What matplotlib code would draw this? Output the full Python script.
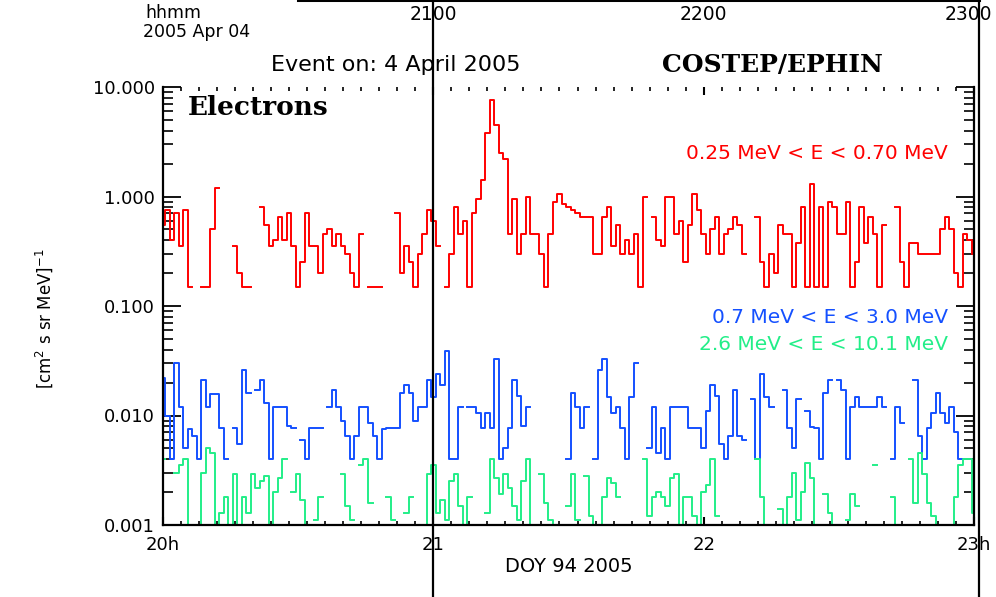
import numpy as np
import matplotlib
matplotlib.use('Agg')
import matplotlib.pyplot as plt
from matplotlib.ticker import MultipleLocator, FixedLocator, FixedFormatter, LogLocator, NullFormatter
from matplotlib.lines import Line2D
import matplotlib.transforms as mtrans

nan = np.nan

# minutes after 20:00 UT, DOY 94 2005 (1-min averages)
minutes = np.arange(0, 181)

# 0.25 MeV < E < 0.70 MeV
flux_e1 = [0.55, 0.75, 0.4, 0.7, 0.35, 0.75, 0.15, nan, nan, 0.15,
           0.15, 0.5, 1.2, nan, nan, nan, 0.35, 0.2, 0.15, 0.15,
           nan, nan, 0.8, 0.55, 0.35, 0.4, 0.65, 0.4, 0.7, 0.35,
           0.15, 0.25, 0.7, 0.35, 0.35, 0.2, 0.45, 0.5, 0.35, 0.45,
           0.35, 0.3, 0.2, 0.15, 0.45, nan, 0.15, 0.15, 0.15, nan,
           nan, nan, 0.7, 0.2, 0.35, 0.25, 0.15, 0.3, 0.45, 0.75,
           0.6, 0.35, nan, 0.15, 0.3, 0.8, 0.45, 0.6, 0.15, 0.7,
           0.95, 1.4, 3.8, 7.6, 4.5, 2.5, 2.2, 0.45, 0.95, 0.3,
           0.45, 1.0, 0.45, 0.45, 0.3, 0.15, 0.45, 0.9, 1.05, 0.85,
           0.8, 0.75, 0.7, 0.65, 0.65, 0.65, 0.3, 0.3, 0.65, 0.8,
           0.35, 0.55, 0.3, 0.4, 0.3, 0.45, 0.15, 1.0, nan, 0.65,
           0.4, 0.35, 1.0, 1.0, 0.45, 0.6, 0.25, 0.55, 1.05, 0.75,
           0.45, 0.3, 0.5, 0.65, 0.3, 0.45, 0.5, 0.65, 0.55, 0.3,
           nan, nan, 0.65, 0.25, 0.15, 0.3, 0.2, 0.55, 0.45, 0.45,
           0.15, 0.38, 0.8, 0.15, 1.3, 0.15, 0.8, 0.15, 0.9, 0.8,
           0.45, 0.45, 0.9, 0.15, 0.25, 0.8, 0.38, 0.65, 0.45, 0.15,
           0.55, nan, nan, 0.8, 0.25, 0.15, 0.38, 0.38, 0.3, 0.3,
           0.3, 0.3, 0.3, 0.5, 0.65, 0.5, 0.2, 0.15, 0.45, 0.4,
           0.3]

# 0.7 MeV < E < 3.0 MeV
flux_e2 = [0.022, 0.01, 0.004, 0.03, 0.012, 0.005, 0.0075, 0.0065, 0.004, 0.021,
           0.012, 0.0157, 0.0157, 0.0077, 0.004, nan, 0.0077, 0.0055, 0.026, 0.016,
           nan, 0.017, 0.021, 0.013, 0.004, 0.012, 0.012, 0.012, 0.008, 0.0077,
           nan, 0.006, 0.004, 0.0077, 0.0077, 0.0077, nan, 0.012, 0.017, 0.012,
           0.009, 0.0065, 0.004, 0.0065, 0.012, 0.012, 0.0085, 0.0065, 0.004, 0.0075,
           0.0077, 0.0077, 0.0077, 0.016, 0.019, 0.016, 0.009, 0.012, 0.012, 0.021,
           0.0147, 0.024, 0.019, 0.039, 0.004, 0.004, 0.012, nan, 0.012, 0.012,
           0.0105, 0.0077, 0.0105, 0.0077, 0.033, 0.004, 0.005, 0.0077, 0.021, 0.015,
           0.008, 0.012, nan, nan, nan, nan, nan, nan, nan, nan,
           0.004, 0.016, 0.012, 0.0077, 0.012, nan, 0.004, 0.026, 0.033, 0.0147,
           0.0105, 0.012, 0.0077, 0.004, 0.0147, 0.03, nan, nan, 0.005, 0.012,
           0.0045, 0.0077, 0.004, 0.0119, 0.0119, 0.0119, 0.0119, 0.0077, 0.0077, 0.0077,
           0.005, 0.011, 0.019, 0.015, 0.0055, 0.004, 0.0065, 0.017, 0.0065, 0.006,
           nan, 0.014, 0.004, 0.024, 0.0147, 0.0119, nan, nan, 0.017, 0.0077,
           0.005, 0.014, nan, 0.011, 0.0078, 0.0077, 0.004, 0.016, 0.021, nan,
           0.021, 0.017, 0.004, 0.0119, 0.0147, 0.0119, 0.0119, 0.0119, 0.0119, 0.0147,
           0.0119, nan, 0.004, 0.0119, 0.0085, nan, nan, 0.021, 0.0065, 0.004,
           0.0077, 0.0105, 0.016, 0.0105, 0.0085, 0.0119, 0.007, 0.004, nan, nan,
           nan]

# 2.6 MeV < E < 10.1 MeV
flux_e3 = [0.004, nan, nan, 0.003, 0.0035, 0.004, 0.001, nan, 0.001, 0.003,
           0.005, 0.0045, 0.001, 0.0013, 0.0018, 0.001, 0.0029, 0.001, 0.0018, 0.0013,
           0.0029, 0.0022, 0.0025, 0.0028, 0.001, 0.002, 0.0027, 0.004, nan, 0.002,
           0.0029, 0.0017, 0.001, nan, 0.0011, 0.0018, nan, nan, nan, nan,
           0.0029, 0.0015, 0.0011, nan, 0.0035, 0.004, 0.0016, nan, nan, nan,
           0.0018, 0.0011, nan, nan, 0.0013, 0.0018, nan, nan, 0.001, 0.0029,
           0.0035, 0.0013, 0.0017, 0.0011, 0.0025, 0.0029, 0.0015, 0.001, 0.0018, nan,
           nan, nan, 0.0013, 0.004, 0.0027, 0.0019, 0.0029, 0.0022, 0.0015, 0.0011,
           0.0025, 0.004, 0.001, nan, 0.0029, 0.0016, 0.0011, 0.001, nan, nan,
           0.0015, 0.0029, 0.0011, nan, 0.0028, 0.0012, 0.001, 0.001, 0.0018, 0.0027,
           0.0024, 0.0018, nan, nan, nan, nan, nan, 0.004, 0.0012, 0.0018,
           0.002, 0.0018, 0.0015, 0.0027, 0.0029, 0.001, 0.0018, 0.0018, 0.0012, 0.001,
           0.002, 0.0023, 0.004, 0.0012, nan, nan, nan, nan, nan, nan,
           nan, nan, 0.004, 0.0018, 0.001, nan, nan, 0.0014, 0.001, 0.0018,
           0.003, 0.0011, 0.002, 0.0037, 0.0027, 0.001, nan, 0.0019, 0.0013, 0.001,
           nan, nan, 0.0011, 0.0019, 0.0015, nan, nan, nan, 0.0035, nan,
           nan, nan, 0.0018, 0.001, nan, nan, 0.004, 0.0016, 0.0045, 0.0029,
           0.0016, 0.0012, 0.001, nan, nan, 0.001, 0.0018, 0.0035, 0.004, 0.004,
           0.0013]

channels = ['0.25 MeV < E < 0.70 MeV', '0.7 MeV < E < 3.0 MeV', '2.6 MeV < E < 10.1 MeV']
colors = ['#ff0000', '#1450ff', '#22ee88']

hour_ticks = [0, 60, 120, 180]
hour_labels = ['20h', '21', '22', '23h']
hhmm_labels = ['2100', '2200', '2300']
hhmm_ticks = [60, 120, 180]
event_marks = [60, 181]

y_ticks = [0.001, 0.01, 0.1, 1.0, 10.0]
y_labels = ['0.001', '0.010', '0.100', '1.000', '10.000']

fig = plt.figure(figsize=(9.96, 5.97), dpi=100)
ax = fig.add_axes([163 / 996, 1 - 525 / 597, 811 / 996, 438 / 597])

for flux, col in zip([flux_e1, flux_e2, flux_e3], colors):
    ax.plot(minutes, flux, color=col, lw=1.4, drawstyle='steps-mid')

ax.set_yscale('log')
ax.set_ylim(0.001, 10.0)
ax.set_xlim(0, 180)

ax.yaxis.set_major_locator(FixedLocator(y_ticks))
ax.yaxis.set_major_formatter(FixedFormatter(y_labels))
ax.yaxis.set_minor_locator(LogLocator(base=10, subs=np.arange(2, 10)))
ax.yaxis.set_minor_formatter(NullFormatter())
ax.xaxis.set_major_locator(FixedLocator(hour_ticks))
ax.xaxis.set_major_formatter(FixedFormatter(hour_labels))
ax.xaxis.set_minor_locator(MultipleLocator(4))

ax.tick_params(axis='y', which='major', direction='in', length=13, width=1.3,
               left=True, right=True, labelsize=13, pad=6)
ax.tick_params(axis='y', which='minor', direction='in', length=7, width=1.2,
               left=True, right=True)
ax.tick_params(axis='x', which='major', direction='in', length=6, width=1.5,
               top=True, bottom=True, labelsize=13, pad=8)
ax.tick_params(axis='x', which='minor', direction='in', length=3, width=1.2,
               top=True, bottom=True)

ax.spines['top'].set_visible(False)
for s in ['left', 'bottom', 'right']:
    ax.spines[s].set_linewidth(1.6)

ax.set_xlabel('DOY 94 2005', fontsize=14, labelpad=2)
ax.set_ylabel(r'[cm$^2$ s sr MeV]$^{-1}$', fontsize=12)
ax.yaxis.set_label_coords(-0.133, 0.47)

# event markers crossing the whole page
for m in event_marks:
    ax.axvline(m, ymin=-0.165, ymax=1.2, color='black', lw=1.6, clip_on=False)
tb = mtrans.blended_transform_factory(ax.transData, ax.transAxes)
top_line = Line2D([30, 181], [1.199, 1.199], color='black', lw=2.2,
                  transform=tb, clip_on=False)
ax.add_line(top_line)

# hhmm axis labels along the top (last one nudged to stay on the page)
nudge = [0, 0, -4]
for t, lab, dx in zip(hhmm_ticks, hhmm_labels, nudge):
    ax.annotate(lab, xy=(t, 1.165), xycoords=tb, xytext=(dx, 0),
                textcoords='offset points', ha='center', va='center', fontsize=13.5)
ax.text(-0.022, 1.149, 'hhmm', transform=ax.transAxes, ha='left', va='bottom', fontsize=12.5)
ax.text(-0.025, 1.145, '2005 Apr 04', transform=ax.transAxes, ha='left', va='top', fontsize=12.5)

ax.text(0.287, 1.05, 'Event on: 4 April 2005', transform=ax.transAxes,
        ha='center', va='center', fontsize=16, family='DejaVu Sans')
ax.text(0.752, 1.05, 'COSTEP/EPHIN', transform=ax.transAxes, ha='center', va='center',
        fontsize=18, family='DejaVu Serif', fontweight='bold')
ax.text(0.031, 0.953, 'Electrons', transform=ax.transAxes, ha='left', va='center',
        fontsize=19, family='DejaVu Serif', fontweight='bold')

label_y = [0.849, 0.474, 0.411]
for lab, col, ly in zip(channels, colors, label_y):
    ax.text(0.968, ly, lab, transform=ax.transAxes, ha='right', va='center',
            fontsize=14.5, color=col)

fig.savefig('out.png', dpi=100)
